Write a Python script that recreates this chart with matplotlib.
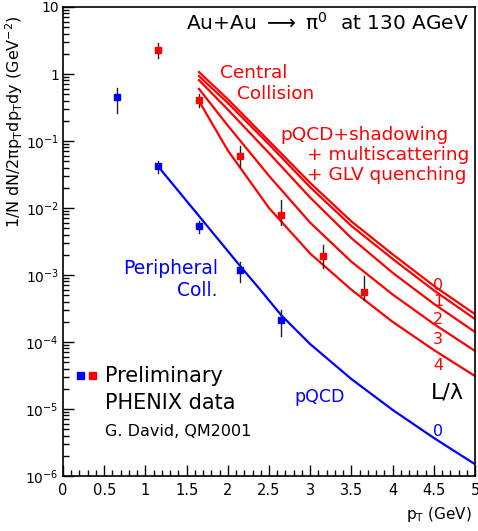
import numpy as np
import matplotlib
matplotlib.use("Agg")
import matplotlib.pyplot as plt
from matplotlib.ticker import MultipleLocator, FixedLocator, NullFormatter

# PHENIX preliminary pi0 data (pT in GeV)
pt_data = [0.65, 1.15, 1.65, 2.15, 2.65]
periph_val = [0.454, 0.042, 0.0054, 0.0012, 2.1e-4]
periph_hi = [0.62, 0.050, 0.0064, 0.00156, 3.0e-4]
periph_lo = [0.26, 0.033, 0.0042, 7.9e-4, 1.23e-4]

pt_central = [1.15, 1.65, 2.15, 2.65, 3.15, 3.65]
central_val = [2.28, 0.41, 0.060, 0.0079, 0.0019, 5.6e-4]
central_hi = [2.9, 0.50, 0.084, 0.0133, 0.0028, 9.5e-4]
central_lo = [1.73, 0.32, 0.041, 0.0056, 0.00127, 4.3e-4]

# pQCD curves
pt_peri_curve = [1.15, 1.65, 2.15, 2.4, 2.65, 3.0, 3.5, 4.0, 4.5, 5.0]
peri_curve = [0.0424, 7.6e-3, 1.36e-3, 5.9e-4, 2.5e-4, 9.3e-5, 2.8e-5, 9.7e-6, 3.7e-6, 1.5e-6]

pt_cent_curve = [1.65, 2.0, 2.5, 3.0, 3.5, 4.0, 4.5, 5.0]
cent_curves = {
    "0": [1.07, 0.42, 0.100, 0.0237, 6.3e-3, 2.04e-3, 6.9e-4, 2.6e-4],
    "1": [0.93, 0.37, 0.089, 0.0204, 5.4e-3, 1.74e-3, 5.9e-4, 2.2e-4],
    "2": [0.81, 0.295, 0.066, 0.0143, 3.55e-3, 1.08e-3, 3.72e-4, 1.41e-4],
    "3": [0.60, 0.170, 0.0302, 6.03e-3, 1.58e-3, 5.13e-4, 1.86e-4, 7.35e-5],
    "4": [0.395, 0.0724, 0.0100, 2.09e-3, 6.03e-4, 2.0e-4, 7.6e-5, 3.1e-5],
}

W, H = 478, 531
fig = plt.figure(figsize=(W / 100, H / 100), dpi=100)
ax = fig.add_axes([63 / W, 1 - 476 / H, 412 / W, 469 / H])


def px(x, y):
    "pixel position -> figure fraction"
    return x / W, 1 - y / H


ax.set_yscale("log")
ax.set_xlim(0, 5)
ax.set_ylim(1e-6, 10)

for key, vals in cent_curves.items():
    ax.plot(pt_cent_curve, vals, color="red", lw=1.6)
ax.plot(pt_peri_curve, peri_curve, color="blue", lw=1.6)

# data points with error bars
for x, v, hi, lo in zip(pt_data, periph_val, periph_hi, periph_lo):
    ax.plot([x, x], [lo, hi], color="#222222", lw=1.0)
for x, v, hi, lo in zip(pt_central, central_val, central_hi, central_lo):
    ax.plot([x, x], [lo, hi], color="#222222", lw=1.0)
ax.plot(pt_data, periph_val, "s", color="blue", ms=5, ls="none")
ax.plot(pt_central, central_val, "s", color="red", ms=5, ls="none")

# axes style like ROOT
for s in ax.spines.values():
    s.set_linewidth(1.2)
ax.xaxis.set_minor_locator(MultipleLocator(0.1))
ax.set_xticks([0, 0.5, 1, 1.5, 2, 2.5, 3, 3.5, 4, 4.5, 5])
ax.set_xticklabels(["0", "0.5", "1", "1.5", "2", "2.5", "3", "3.5", "4", "4.5", "5"])
yt = [1e-6, 1e-5, 1e-4, 1e-3, 1e-2, 1e-1, 1, 10]
ax.set_yticks(yt)
ax.set_yticklabels([r"$10^{-6}$", r"$10^{-5}$", r"$10^{-4}$", r"$10^{-3}$",
                    r"$10^{-2}$", r"$10^{-1}$", "1", "10"])
ax.yaxis.set_minor_locator(FixedLocator(
    [m * 10.0 ** e for e in range(-6, 1) for m in range(2, 10)]))
ax.yaxis.set_minor_formatter(NullFormatter())
ax.tick_params(which="both", direction="in", top=False, right=False,
               labelsize=10.5, width=1.0)
ax.tick_params(axis="y", labelsize=10, pad=3)
ax.tick_params(which="major", length=8)
ax.tick_params(axis="x", which="major", pad=5)
ax.tick_params(which="minor", length=4)

# axis titles
fig.text(*px(14, 122), r"1/N dN/2πp$_{\rm T}$dp$_{\rm T}$dy (GeV$^{-2}$)",
         rotation=90, ha="center", va="center", fontsize=11.5)
fig.text(*px(472, 514), r"p$_{\rm T}$ (GeV)", ha="right", va="center", fontsize=11)

# annotations
fig.text(*px(469, 23), r"Au+Au $\longrightarrow$ π$^{\rm 0}$  at 130 AGeV",
         ha="right", va="center", fontsize=14.5)
fig.text(*px(254, 73), "Central", ha="center", va="center", fontsize=13.3, color="red")
fig.text(*px(276, 94), "Collision", ha="center", va="center", fontsize=13.3, color="red")
fig.text(*px(280, 135), "pQCD+shadowing", ha="left", va="center", fontsize=13.3, color="red")
fig.text(*px(307, 155), "+ multiscattering", ha="left", va="center", fontsize=13.3, color="red")
fig.text(*px(307, 175), "+ GLV quenching", ha="left", va="center", fontsize=13.3, color="red")
fig.text(*px(218, 269), "Peripheral", ha="right", va="center", fontsize=13.5, color="blue")
fig.text(*px(218, 290), "Coll.", ha="right", va="center", fontsize=13.5, color="blue")
fig.text(*px(320, 397), "pQCD", ha="center", va="center", fontsize=12.5, color="blue")
fig.text(*px(438, 432), "0", ha="center", va="center", fontsize=11.5, color="blue")
for lab, yy in zip(["0", "1", "2", "3", "4"], [285, 302, 319, 340, 366]):
    fig.text(*px(438, yy), lab, ha="center", va="center", fontsize=11.5, color="red")
fig.text(*px(447, 392), "L/λ", ha="center", va="center", fontsize=16)

fig.text(*px(105, 376), "Preliminary", ha="left", va="center", fontsize=15)
fig.text(*px(105, 403), "PHENIX data", ha="left", va="center", fontsize=15)
fig.text(*px(105, 431), "G. David, QM2001", ha="left", va="center", fontsize=11.5)
fig.patches.append(plt.Rectangle(px(77, 379), 7 / W, 7 / H, color="blue",
                                 transform=fig.transFigure, figure=fig))
fig.patches.append(plt.Rectangle(px(89, 379), 7 / W, 7 / H, color="red",
                                 transform=fig.transFigure, figure=fig))

fig.savefig("out.png", dpi=100)
